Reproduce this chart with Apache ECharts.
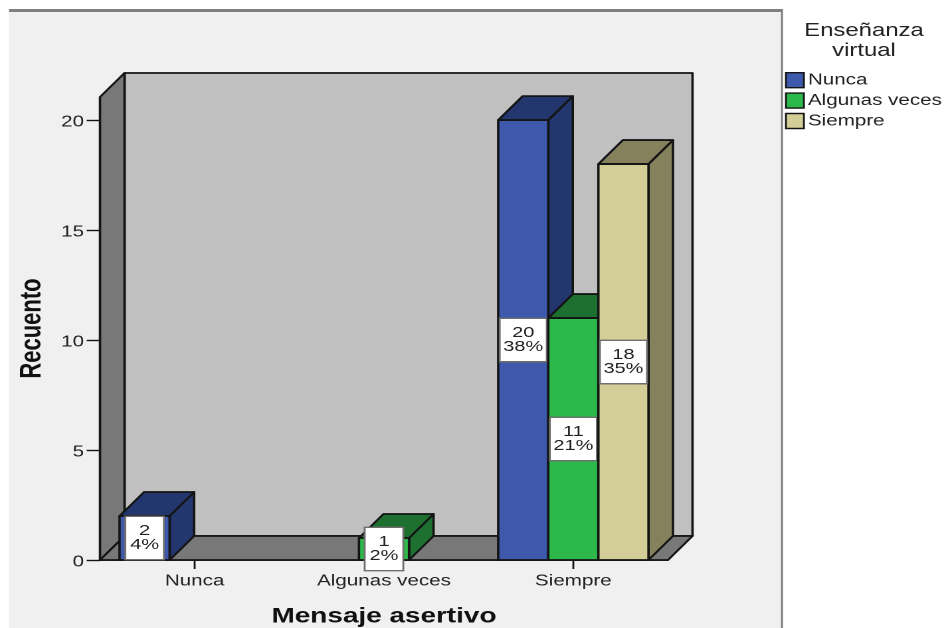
<!DOCTYPE html>
<html>
<head>
<meta charset="utf-8">
<style>
html,body{margin:0;padding:0;background:#fff;overflow:hidden;width:946px;height:628px}
#chart{width:712px;height:628px;transform:scaleX(1.32865);transform-origin:0 0}
</style>
<script src="https://cdn.jsdelivr.net/npm/echarts@6/dist/echarts.min.js"></script>
</head>
<body>
<div id="chart"></div>
<script>
// Data
const categories = ['Nunca', 'Algunas veces', 'Siempre'];
const tickValues = [0, 5, 10, 15, 20];
const nuncaCounts = [2, 0, 20];
const algunasCounts = [0, 1, 11];
const siempreCounts = [0, 0, 18];
const nuncaPercents = ['4%', '', '38%'];
const algunasPercents = ['', '2%', '21%'];
const siemprePercents = ['', '', '35%'];
const seriesNames = ['Nunca', 'Algunas veces', 'Siempre'];

// The reference is horizontally stretched; the page stretches the whole canvas the same way.
const S = 946 / 712;
const X = v => v / S;
const DX = X(24.5), DY = 24;
const EDGE = '#141414';
const FONT = 'Liberation Sans, Arial, sans-serif';
const palette = [
  {front: '#3E58AC', shade: '#24366E'},
  {front: '#2DB84B', shade: '#1E7030'},
  {front: '#D3CE97', shade: '#85815C'}
];

const poly = (points, fill, lw) => ({
  type: 'polygon', shape: {points},
  style: {fill, stroke: EDGE, lineWidth: lw || 1.8, lineJoin: 'round'}
});

function renderWalls(params, api) {
  const c = params.coordSys;
  const y0 = api.coord([0, 0])[1];
  const x0 = c.x, x1 = c.x + c.width, yt = c.y;
  return {
    type: 'group',
    children: [
      poly([[x0 + DX, yt - DY], [x1 + DX, yt - DY], [x1 + DX, y0 - DY], [x0 + DX, y0 - DY]], '#C0C0C0'),
      poly([[x0, y0], [x0 + DX, y0 - DY], [x0 + DX, yt - DY], [x0, yt]], '#787878'),
      poly([[x0, y0], [x1, y0], [x1 + DX, y0 - DY], [x0 + DX, y0 - DY]], '#787878')
    ]
  };
}

function makeBarRenderer(seriesIdx, percents) {
  return function (params, api) {
    const cat = api.value(0), val = api.value(1);
    if (!val) return null;
    const p0 = api.coord([cat, 0]), p1 = api.coord([cat, val]);
    const band = api.size([1, 0])[0];
    const w = band * 50 / 189;
    const xl = p0[0] + (seriesIdx - 1) * w - w / 2, xr = xl + w;
    const yb = p0[1], yt = p1[1];
    const col = palette[seriesIdx];
    const text = val + '\n' + percents[cat];
    const padX = String(val).length > 1 ? 2 : 3;
    return {
      type: 'group',
      children: [
        poly([[xr, yt], [xr + DX, yt - DY], [xr + DX, yb - DY], [xr, yb]], col.shade),
        poly([[xl, yt], [xr, yt], [xr + DX, yt - DY], [xl + DX, yt - DY]], col.shade),
        poly([[xl, yt], [xr, yt], [xr, yb], [xl, yb]], col.front),
        {
          type: 'text', z2: 50,
          style: {
            text, x: (xl + xr) / 2, y: (yt + yb) / 2,
            align: 'center', verticalAlign: 'middle',
            font: '15px ' + FONT, lineHeight: 14, fill: '#222',
            backgroundColor: '#fff', borderColor: '#6e6e6e', borderWidth: 1.4,
            padding: [7, padX, 7, padX]
          }
        }
      ]
    };
  };
}

const barSeries = (name, idx, counts, percents) => ({
  name, type: 'custom', z: 3 + idx,
  coordinateSystem: 'cartesian2d',
  itemStyle: {color: palette[idx].front},
  encode: {x: 0, y: 1},
  data: counts.map((v, i) => [i, v]),
  renderItem: makeBarRenderer(idx, percents),
  silent: true, animation: false
});

const chart = echarts.init(document.getElementById('chart'), null, {renderer: 'canvas', devicePixelRatio: 2});
chart.setOption({
  animation: false,
  backgroundColor: '#ffffff',
  textStyle: {fontFamily: FONT},
  graphic: [
    {type: 'rect', z: -20, silent: true, shape: {x: X(9), y: 10, width: X(773), height: 620}, style: {fill: '#F0F0F0', stroke: null}},
    {type: 'rect', z: -19, silent: true, shape: {x: X(9), y: 9, width: X(773), height: 3}, style: {fill: '#808080'}},
    {type: 'rect', z: -19, silent: true, shape: {x: X(781), y: 9, width: X(2), height: 620}, style: {fill: '#808080'}},
    {type: 'text', z: 5, silent: true, x: X(864), y: 21,
      style: {text: 'Enseñanza\nvirtual', align: 'center', verticalAlign: 'top', font: '18px ' + FONT, lineHeight: 20, fill: '#222'}}
  ],
  legend: {
    orient: 'vertical', left: X(785), top: 72,
    itemWidth: X(18), itemHeight: 15, itemGap: 4, padding: 0,
    icon: 'rect', selectedMode: false,
    data: seriesNames,
    itemStyle: {borderColor: '#141414', borderWidth: 1.4},
    textStyle: {fontFamily: FONT, fontSize: 15.5, lineHeight: 15, height: 15, color: '#222', padding: [0, 0, 0, -2]}
  },
  grid: {left: X(100), top: 97, width: X(568), height: 463, containLabel: false, outerBoundsMode: 'none'},
  xAxis: {
    type: 'category', data: categories,
    boundaryGap: true,
    axisTick: {show: true, alignWithLabel: true, length: 9, lineStyle: {color: EDGE, width: 1.4}},
    axisLine: {show: true, lineStyle: {color: EDGE, width: 1.8}},
    axisLabel: {color: '#222', fontSize: 15.5, fontFamily: FONT, margin: 13, interval: 0},
    splitLine: {show: false},
    name: 'Mensaje asertivo', nameLocation: 'middle', nameGap: 46,
    nameTextStyle: {color: '#111', fontSize: 21, fontWeight: 'bold', fontFamily: FONT}
  },
  yAxis: {
    type: 'value', min: 0, max: 21.05,
    axisTick: {show: true, length: 10, customValues: tickValues, lineStyle: {color: EDGE, width: 1.4}},
    axisLine: {show: true, lineStyle: {color: EDGE, width: 1.8}},
    axisLabel: {color: '#222', fontSize: 15.5, fontFamily: FONT, margin: 12, customValues: tickValues, verticalAlign: 'top', lineHeight: 4},
    splitLine: {show: false},
    name: 'Recuento', nameLocation: 'middle', nameGap: 40, nameRotate: 90, nameMoveOverlap: false,
    nameTextStyle: {color: '#111', fontSize: 22, fontWeight: 'bold', fontFamily: FONT}
  },
  series: [
    {name: 'walls', type: 'custom', z: 1, coordinateSystem: 'cartesian2d', data: [[0, 0]], encode: {x: 0, y: 1}, renderItem: renderWalls, silent: true, animation: false},
    barSeries(seriesNames[0], 0, nuncaCounts, nuncaPercents),
    barSeries(seriesNames[1], 1, algunasCounts, algunasPercents),
    barSeries(seriesNames[2], 2, siempreCounts, siemprePercents)
  ]
});
</script>
</body>
</html>
